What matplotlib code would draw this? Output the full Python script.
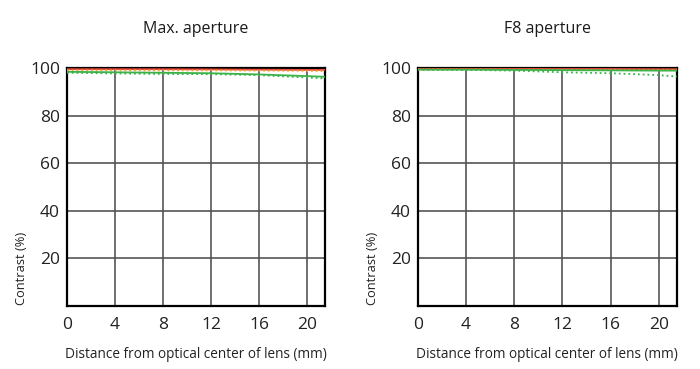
import matplotlib.pyplot as plt

plt.rcParams['font.family'] = ['Open Sans', 'DejaVu Sans']

# Data
dist = [0, 4, 8, 12, 16, 20, 21.5]

max_red_solid = [99.5, 99.5, 99.5, 99.4, 99.3, 99.2, 99.2]
max_orange_dot = [99.0, 99.0, 99.0, 99.0, 98.9, 98.8, 98.7]
max_green_solid = [98.4, 98.2, 98.0, 97.8, 97.3, 96.6, 96.3]
max_green_dot = [98.0, 97.7, 97.5, 97.4, 97.0, 96.0, 95.6]

f8_red_solid = [99.6, 99.6, 99.6, 99.6, 99.6, 99.5, 99.5]
f8_orange_dot = [99.3, 99.3, 99.3, 99.2, 99.2, 99.1, 99.1]
f8_green_solid = [99.3, 99.3, 99.2, 99.1, 99.0, 98.9, 98.9]
f8_green_dot = [99.3, 99.2, 98.9, 98.2, 97.8, 97.0, 96.4]

titles = ["Max. aperture", "F8 aperture"]
xticks = [0, 4, 8, 12, 16, 20]
yticks = [20, 40, 60, 80, 100]

series = [
    (max_red_solid, max_orange_dot, max_green_solid, max_green_dot),
    (f8_red_solid, f8_orange_dot, f8_green_solid, f8_green_dot),
]

fig = plt.figure(figsize=(7, 3.69), dpi=100)
positions = [[0.0957, 0.1707, 0.3686, 0.645], [0.597, 0.1707, 0.37, 0.645]]

for pos, title, (red, orange, gs, gd) in zip(positions, titles, series):
    ax = fig.add_axes(pos)
    ax.set_xlim(0, 21.5)
    ax.set_ylim(0, 100)
    for x in xticks[1:]:
        ax.axvline(x, color='#555555', lw=1.2, zorder=1)
    for y in yticks[:-1]:
        ax.axhline(y, color='#555555', lw=1.2, zorder=1)

    ax.plot(dist, red, color='#e84a3a', lw=1.3, zorder=3)
    ax.plot(dist, orange, color='#f0a030', lw=1.3, ls=':', zorder=3)
    ax.plot(dist, gs, color='#3cb34a', lw=1.3, zorder=3)
    ax.plot(dist, gd, color='#3cb34a', lw=1.3, ls=':', zorder=3)

    for s in ax.spines.values():
        s.set_color('black')
        s.set_linewidth(1.6)

    ax.set_xticks(xticks)
    ax.set_yticks(yticks)
    ax.tick_params(length=0, labelsize=12.5, colors='#222222', pad=5)
    ax.tick_params(axis='x', pad=8)
    ax.set_title(title, fontsize=11.5, pad=25, color='#1a1a1a')
    ax.set_xlabel("Distance from optical center of lens (mm)", fontsize=9.8, labelpad=10, color='#222222')
    ax.set_ylabel("Contrast (%)", fontsize=9.3, color='#222222')
    ax.yaxis.set_label_coords(-0.15, 0.16)

fig.savefig("out.png", dpi=100)
